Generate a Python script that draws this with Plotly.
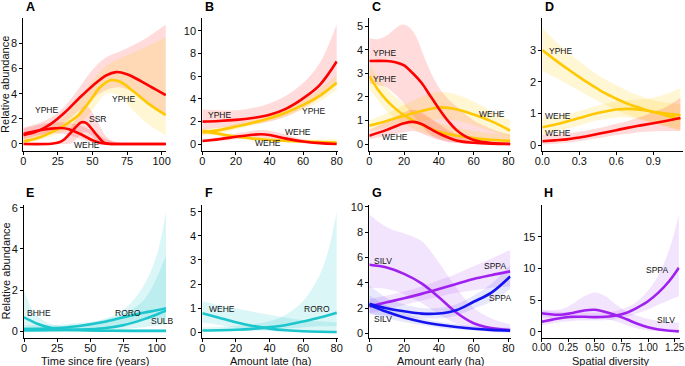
import plotly.graph_objects as go

W, H = 685, 366
FONT = "Liberation Sans, Arial, Helvetica, sans-serif"

RED, GOLD, TEAL, PURPLE, BLUE = "#FF0000", "#FFC800", "#1CC6CC", "#A020F0", "#1414EE"
RED_F = "rgba(255,0,0,0.14)"
GOLD_F = "rgba(255,200,0,0.17)"
TEAL_F = "rgba(0,190,200,0.14)"
PURPLE_F = "rgba(160,32,240,0.12)"
BLUE_F = "rgba(20,20,238,0.10)"

# ---------------- Panel A : time since fire ----------------
A_YPHE_R_x = [0, 10, 20, 30, 40, 50, 60, 67, 75, 85, 95, 103]
A_YPHE_R = [0.70, 1.00, 1.60, 2.50, 3.60, 4.62, 5.46, 5.72, 5.55, 5.00, 4.38, 3.88]
A_YPHE_R_bx = [0, 10, 20, 30, 40, 50, 60, 70, 80, 90, 103]
A_YPHE_R_lo = [0.25, 0.55, 1.00, 1.70, 2.60, 3.60, 4.30, 4.50, 4.10, 3.30, 2.40]
A_YPHE_R_hi = [1.30, 1.60, 2.10, 3.00, 4.40, 5.90, 6.90, 7.35, 7.90, 8.50, 9.50]
A_YPHE_Y_x = [0, 10, 20, 30, 40, 45, 50, 55, 63, 70, 80, 90, 103]
A_YPHE_Y = [0.19, 0.45, 0.90, 1.50, 2.30, 2.95, 3.70, 4.45, 5.07, 4.95, 4.15, 3.25, 2.30]
A_YPHE_Y_bx = [0, 10, 20, 30, 40, 50, 60, 70, 80, 90, 103]
A_YPHE_Y_lo = [0.02, 0.25, 0.60, 1.00, 1.60, 2.70, 4.00, 3.80, 2.60, 1.60, 0.67]
A_YPHE_Y_hi = [0.45, 0.80, 1.35, 2.20, 3.50, 5.00, 6.20, 6.80, 7.30, 7.80, 8.50]
A_SSR_x = [0, 20, 26, 30, 34, 38, 42, 45, 48, 51, 54, 58, 62, 70, 103]
A_SSR = [0, 0.02, 0.13, 0.40, 0.85, 1.35, 1.72, 1.70, 1.40, 1.00, 0.60, 0.13, 0.02, 0, 0]
A_SSR_bx = [20, 25, 30, 35, 40, 44, 48, 52, 56, 60, 65, 70]
A_SSR_lo = [0, 0, 0, 0.05, 0.60, 0.95, 0.80, 0.40, 0.10, 0, 0, 0]
A_SSR_hi = [0, 0.05, 0.50, 1.40, 2.50, 3.05, 2.80, 2.10, 1.30, 0.60, 0.20, 0.05]
A_WEHE_x = [0, 10, 20, 27, 33, 38, 42, 46, 50, 55, 60, 70, 103]
A_WEHE = [0.80, 1.05, 1.22, 1.27, 1.18, 0.95, 0.75, 0.52, 0.30, 0.10, 0.02, 0, 0]
A_WEHE_bx = [0, 10, 20, 30, 40, 50, 60, 70]
A_WEHE_lo = [0.40, 0.70, 0.85, 0.80, 0.45, 0.10, 0, 0]
A_WEHE_hi = [1.20, 1.50, 1.70, 1.70, 1.50, 1.00, 0.40, 0.10]

# ---------------- Panel B : amount late ----------------
B_x = [0, 10, 20, 30, 40, 50, 60, 70, 80]
B_YPHE_R = [2.0, 2.05, 2.15, 2.32, 2.6, 3.15, 4.05, 5.25, 7.3]
B_YPHE_R_lo = [1.3, 1.45, 1.6, 1.75, 2.0, 2.45, 3.2, 4.1, 5.3]
B_YPHE_R_hi = [3.1, 3.0, 3.0, 3.2, 3.6, 4.3, 5.4, 7.2, 10.6]
B_YPHE_Y = [1.03, 1.25, 1.56, 1.9, 2.3, 2.8, 3.47, 4.3, 5.44]
B_YPHE_Y_lo = [0.75, 0.95, 1.3, 1.65, 2.0, 2.45, 3.05, 3.8, 4.8]
B_YPHE_Y_hi = [1.35, 1.5, 1.8, 2.15, 2.6, 3.15, 3.9, 4.9, 6.1]
B_WEHE_Y = [1.18, 0.92, 0.68, 0.5, 0.38, 0.3, 0.24, 0.19, 0.15]
B_WEHE_Y_lo = [0.95, 0.72, 0.5, 0.35, 0.25, 0.18, 0.12, 0.08, 0.05]
B_WEHE_Y_hi = [1.4, 1.1, 0.85, 0.7, 0.6, 0.5, 0.45, 0.42, 0.45]
B_WEHE_R_x = [0, 10, 20, 30, 35, 40, 50, 60, 70, 80]
B_WEHE_R = [0.29, 0.45, 0.66, 0.84, 0.88, 0.82, 0.5, 0.25, 0.1, 0.03]
B_WEHE_R_lo = [0.15, 0.28, 0.45, 0.55, 0.58, 0.5, 0.25, 0.08, 0.02, 0.0]
B_WEHE_R_hi = [0.45, 0.65, 0.95, 1.2, 1.25, 1.2, 0.85, 0.45, 0.2, 0.1]

# ---------------- Panel C : amount early ----------------
C_YPHE_R_x = [0, 10, 15, 20, 25, 30, 35, 40, 45, 50, 55, 60, 70, 81]
C_YPHE_R = [3.52, 3.52, 3.47, 3.33, 3.0, 2.6, 2.05, 1.5, 1.0, 0.6, 0.33, 0.17, 0.04, 0.0]
C_YPHE_R_bx = [0, 5, 10, 15, 19, 23, 27, 31, 35, 40, 46, 50, 60, 70, 81]
C_YPHE_R_hi = [4.5, 4.45, 4.6, 4.9, 5.07, 4.95, 4.55, 3.8, 3.1, 2.4, 1.86, 1.6, 1.0, 0.65, 0.4]
C_YPHE_R_lo = [2.57, 2.5, 2.4, 2.1, 1.8, 1.4, 1.05, 0.7, 0.4, 0.2, 0.07, 0.04, 0, 0, 0]
C_YPHE_Y_x = [0, 5, 10, 15, 20, 30, 40, 50, 60, 70, 81]
C_YPHE_Y = [2.88, 2.3, 1.85, 1.5, 1.22, 0.82, 0.52, 0.36, 0.25, 0.18, 0.14]
C_YPHE_Y_hi = [3.4, 2.8, 2.35, 2.0, 1.7, 1.25, 0.9, 0.7, 0.55, 0.45, 0.4]
C_YPHE_Y_lo = [2.35, 1.85, 1.4, 1.1, 0.85, 0.5, 0.28, 0.15, 0.08, 0.05, 0.03]
C_WEHE_Y_x = [0, 10, 20, 30, 40, 50, 60, 70, 81]
C_WEHE_Y = [0.78, 0.98, 1.2, 1.4, 1.55, 1.47, 1.25, 0.97, 0.57]
C_WEHE_Y_hi = [1.0, 1.3, 1.65, 2.0, 2.2, 2.1, 1.8, 1.4, 1.0]
C_WEHE_Y_lo = [0.55, 0.7, 0.85, 1.0, 1.05, 1.0, 0.8, 0.55, 0.3]
C_WEHE_R_x = [0, 10, 20, 25, 30, 35, 40, 50, 60, 70, 81]
C_WEHE_R = [0.35, 0.6, 0.88, 0.94, 0.85, 0.65, 0.45, 0.15, 0.05, 0.01, 0]
C_WEHE_R_hi = [0.6, 0.95, 1.35, 1.45, 1.35, 1.1, 0.85, 0.4, 0.2, 0.1, 0.05]
C_WEHE_R_lo = [0.2, 0.35, 0.5, 0.55, 0.45, 0.3, 0.18, 0.05, 0.01, 0, 0]

# ---------------- Panel D : spatial diversity ----------------
D_x = [0, 0.1, 0.2, 0.3, 0.4, 0.5, 0.6, 0.7, 0.8, 0.9, 1.0, 1.12]
D_YPHE_Y = [3.0, 2.7, 2.42, 2.15, 1.9, 1.66, 1.47, 1.3, 1.17, 1.05, 0.95, 0.82]
D_YPHE_Y_hi = [3.7, 3.3, 2.95, 2.65, 2.35, 2.1, 1.9, 1.7, 1.55, 1.42, 1.35, 1.3]
D_YPHE_Y_lo = [2.35, 2.15, 1.93, 1.72, 1.5, 1.3, 1.1, 0.95, 0.83, 0.72, 0.6, 0.45]
D_WEHE_Y = [0.57, 0.65, 0.75, 0.86, 0.97, 1.06, 1.13, 1.15, 1.12, 1.06, 1.0, 0.95]
D_WEHE_Y_hi = [0.85, 0.9, 0.98, 1.08, 1.2, 1.3, 1.38, 1.42, 1.45, 1.5, 1.62, 1.8]
D_WEHE_Y_lo = [0.35, 0.43, 0.53, 0.63, 0.75, 0.83, 0.88, 0.88, 0.8, 0.7, 0.6, 0.5]
D_WEHE_R = [0.13, 0.16, 0.19, 0.25, 0.32, 0.4, 0.48, 0.56, 0.63, 0.7, 0.77, 0.86]
D_WEHE_R_hi = [0.35, 0.36, 0.38, 0.43, 0.5, 0.58, 0.68, 0.78, 0.9, 1.05, 1.2, 1.5]
D_WEHE_R_lo = [0.03, 0.05, 0.08, 0.13, 0.2, 0.26, 0.33, 0.37, 0.42, 0.44, 0.45, 0.45]

# ---------------- Panel E : time since fire ----------------
E_BHHE_x = [0, 5, 10, 15, 20, 25, 30, 40, 60, 80, 107]
E_BHHE = [0.68, 0.52, 0.37, 0.26, 0.17, 0.11, 0.08, 0.05, 0.03, 0.02, 0.02]
E_BHHE_hi = [2.0, 1.2, 0.75, 0.5, 0.35, 0.28, 0.22, 0.17, 0.12, 0.1, 0.1]
E_BHHE_lo = [0.25, 0.2, 0.14, 0.08, 0.05, 0.03, 0.02, 0.01, 0, 0, 0]
E_x = [0, 20, 40, 60, 75, 90, 100, 107]
E_RORO = [0.12, 0.15, 0.25, 0.45, 0.68, 0.9, 1.02, 1.12]
E_RORO_hi = [0.3, 0.3, 0.4, 0.55, 0.85, 1.5, 2.6, 3.7]
E_RORO_lo = [0.03, 0.06, 0.12, 0.22, 0.38, 0.55, 0.62, 0.65]
E_SULB = [0.04, 0.05, 0.08, 0.15, 0.3, 0.58, 0.82, 1.0]
E_SULB_hi = [0.15, 0.15, 0.3, 0.6, 1.05, 2.2, 3.7, 5.8]
E_SULB_lo = [0.01, 0.01, 0.02, 0.05, 0.1, 0.2, 0.28, 0.32]

# ---------------- Panel F : amount late ----------------
F_x = [0, 10, 20, 30, 40, 50, 60, 70, 80]
F_WEHE = [0.79, 0.6, 0.41, 0.26, 0.15, 0.08, 0.04, 0.02, 0.01]
F_WEHE_hi = [1.3, 1.12, 0.98, 0.85, 0.72, 0.6, 0.5, 0.45, 0.4]
F_WEHE_lo = [0.4, 0.3, 0.18, 0.1, 0.05, 0.02, 0.01, 0, 0]
F_RORO_x = [0, 10, 20, 30, 40, 50, 60, 70, 75, 80]
F_RORO = [0.07, 0.08, 0.1, 0.14, 0.21, 0.3, 0.44, 0.61, 0.7, 0.81]
F_RORO_hi = [0.2, 0.22, 0.26, 0.33, 0.45, 0.75, 1.3, 2.4, 3.4, 5.0]
F_RORO_lo = [0.02, 0.03, 0.04, 0.06, 0.1, 0.15, 0.2, 0.25, 0.25, 0.25]

# ---------------- Panel G : amount early ----------------
G_x = [0, 10, 20, 30, 40, 50, 60, 70, 81]
G_SILV_P = [5.42, 5.2, 4.7, 3.95, 2.85, 1.65, 0.8, 0.42, 0.26]
G_SILV_P_hi = [9.4, 8.4, 7.9, 7.3, 5.6, 3.6, 2.0, 1.2, 0.7]
G_SILV_P_lo = [3.6, 3.5, 3.1, 2.4, 1.5, 0.75, 0.3, 0.1, 0.05]
G_SPPA_P = [2.12, 2.45, 2.77, 3.12, 3.5, 3.9, 4.3, 4.6, 4.9]
G_SPPA_P_hi = [2.7, 3.0, 3.3, 3.7, 4.2, 4.7, 5.3, 5.9, 6.6]
G_SPPA_P_lo = [1.6, 1.9, 2.25, 2.6, 2.9, 3.2, 3.4, 3.6, 3.7]
G_SPPA_B = [2.33, 1.98, 1.74, 1.56, 1.57, 1.83, 2.5, 3.2, 4.5]
G_SPPA_B_hi = [3.8, 2.8, 2.3, 2.0, 2.0, 2.3, 3.0, 3.9, 5.4]
G_SPPA_B_lo = [1.5, 1.4, 1.3, 1.2, 1.2, 1.4, 1.95, 2.5, 3.5]
G_SILV_B = [2.25, 1.7, 1.25, 0.92, 0.68, 0.5, 0.36, 0.27, 0.21]
G_SILV_B_hi = [3.0, 2.2, 1.6, 1.2, 0.92, 0.72, 0.58, 0.5, 0.45]
G_SILV_B_lo = [1.6, 1.2, 0.9, 0.65, 0.45, 0.32, 0.22, 0.15, 0.1]

# ---------------- Panel H : spatial diversity ----------------
H_x = [0, 0.1, 0.2, 0.3, 0.4, 0.5, 0.6, 0.7, 0.8, 0.9, 1.0, 1.1, 1.2, 1.29]
H_SPPA = [1.58, 1.9, 2.2, 2.35, 2.35, 2.3, 2.35, 2.55, 3.0, 3.8, 4.8, 6.2, 8.0, 10.1]
H_SPPA_hi = [3.3, 3.2, 3.1, 3.1, 3.0, 3.0, 3.0, 3.3, 3.8, 4.8, 6.5, 9.0, 13.0, 18.5]
H_SPPA_lo = [1.0, 1.3, 1.55, 1.7, 1.75, 1.75, 1.8, 2.0, 2.3, 2.9, 3.5, 4.3, 5.0, 5.6]
H_SILV = [2.9, 2.7, 2.7, 3.0, 3.35, 3.45, 3.1, 2.6, 1.95, 1.25, 0.7, 0.33, 0.14, 0.05]
H_SILV_hi = [3.5, 3.4, 3.6, 4.5, 5.6, 6.2, 5.6, 4.3, 3.2, 2.5, 2.0, 1.7, 1.5, 1.4]
H_SILV_lo = [2.3, 2.1, 2.0, 2.0, 2.1, 2.1, 2.0, 1.6, 1.0, 0.5, 0.2, 0.08, 0.03, 0.01]

# ---------------- axis ticks / titles ----------------
PANEL_LETTERS = ["A", "B", "C", "D", "E", "F", "G", "H"]
X_TICKS = [[0, 25, 50, 75, 100], [0, 20, 40, 60, 80], [0, 20, 40, 60, 80], [0.0, 0.3, 0.6, 0.9],
           [0, 25, 50, 75, 100], [0, 20, 40, 60, 80], [0, 20, 40, 60, 80], [0.0, 0.25, 0.5, 0.75, 1.0, 1.25]]
X_TICKTEXT = [["0", "25", "50", "75", "100"], ["0", "20", "40", "60", "80"], ["0", "20", "40", "60", "80"],
              ["0.0", "0.3", "0.6", "0.9"], ["0", "25", "50", "75", "100"], ["0", "20", "40", "60", "80"],
              ["0", "20", "40", "60", "80"], ["0.00", "0.25", "0.50", "0.75", "1.00", "1.25"]]
Y_TICKS = [[0, 2, 4, 6, 8], [0, 2, 4, 6, 8, 10], [0, 1, 2, 3, 4, 5], [0, 1, 2, 3],
           [0, 2, 4, 6], [0, 1, 2, 3, 4, 5], [0, 2, 4, 6, 8, 10], [0, 5, 10, 15]]
X_TITLES = ["Time since fire (years)", "Amount late (ha)", "Amount early (ha)", "Spatial diversity"]
Y_TITLE = "Relative abundance"
LABELS = [
    [("YPHE", 16.9, 2.7), ("SSR", 53.5, 2.0), ("YPHE", 72.3, 3.57), ("WEHE", 45.8, -0.08)],
    [("YPHE", 10.5, 2.6), ("YPHE", 66, 2.94), ("WEHE", 57, 1.12), ("WEHE", 39.3, 0.09)],
    [("YPHE", 8.6, 3.84), ("YPHE", 8.6, 2.77), ("WEHE", 70.4, 1.26), ("WEHE", 14.8, 0.31)],
    [("YPHE", 0.149, 2.98), ("WEHE", 0.13, 0.94), ("WEHE", 0.13, 0.39)],
    [("BHHE", 11.5, 0.91), ("RORO", 78.6, 0.89), ("SULB", 104.7, 0.48)],
    [("WEHE", 11.5, 0.95), ("RORO", 68, 0.95)],
    [("SILV", 8.1, 5.69), ("SPPA", 72.4, 5.29), ("SPPA", 74.9, 2.78), ("SILV", 8.1, 1.11)],
    [("SPPA", 1.082, 9.74), ("SILV", 1.168, 1.84)],
]

# ---------------- layout geometry (pixels) ----------------
X_DOM_PX = [(23.3, 166), (202.3, 337.7), (369.3, 510.7), (542.3, 683),
            (24, 166), (202.3, 337.7), (369.3, 510.7), (541.7, 679.5)]
ROW_PX = [(18.3, 150.5), (205, 337.5)]
X_RANGES = [[0, 103.2], [0, 80.6], [0, 81.3], [0, 1.141], [0, 107], [0, 80.6], [0, 81.3], [0, 1.296]]
Y_RANGES = [[-0.52, 10.0], [-0.55, 11.12], [-0.275, 5.33], [-0.16, 4.0],
            [-0.3, 6.13], [-0.22, 5.28], [-0.33, 10.15], [-0.92, 20.0]]
X_TICK_SIZE = [11, 11, 11, 11, 11, 11, 11, 10]

fig = go.Figure()


def ax_ids(i):
    return ("x" if i == 0 else f"x{i+1}"), ("y" if i == 0 else f"y{i+1}")


def band(i, x, lo, hi, color):
    xa, ya = ax_ids(i)
    fig.add_trace(go.Scatter(x=x, y=lo, mode="lines", line=dict(width=0, shape="spline"),
                             xaxis=xa, yaxis=ya, showlegend=False, hoverinfo="skip"))
    fig.add_trace(go.Scatter(x=x, y=hi, mode="lines", line=dict(width=0, shape="spline"),
                             fill="tonexty", fillcolor=color,
                             xaxis=xa, yaxis=ya, showlegend=False, hoverinfo="skip"))


def curve(i, x, y, color):
    xa, ya = ax_ids(i)
    fig.add_trace(go.Scatter(x=x, y=y, mode="lines", line=dict(width=2.6, color=color, shape="spline"),
                             xaxis=xa, yaxis=ya, showlegend=False, hoverinfo="skip"))


# ribbons
band(0, A_YPHE_R_bx, A_YPHE_R_lo, A_YPHE_R_hi, RED_F)
band(0, A_YPHE_Y_bx, A_YPHE_Y_lo, A_YPHE_Y_hi, GOLD_F)
band(0, A_SSR_bx, A_SSR_lo, A_SSR_hi, RED_F)
band(0, A_WEHE_bx, A_WEHE_lo, A_WEHE_hi, RED_F)
band(1, B_x, B_YPHE_R_lo, B_YPHE_R_hi, RED_F)
band(1, B_x, B_YPHE_Y_lo, B_YPHE_Y_hi, GOLD_F)
band(1, B_x, B_WEHE_Y_lo, B_WEHE_Y_hi, GOLD_F)
band(1, B_WEHE_R_x, B_WEHE_R_lo, B_WEHE_R_hi, RED_F)
band(2, C_YPHE_R_bx, C_YPHE_R_lo, C_YPHE_R_hi, RED_F)
band(2, C_YPHE_Y_x, C_YPHE_Y_lo, C_YPHE_Y_hi, GOLD_F)
band(2, C_WEHE_Y_x, C_WEHE_Y_lo, C_WEHE_Y_hi, GOLD_F)
band(2, C_WEHE_R_x, C_WEHE_R_lo, C_WEHE_R_hi, RED_F)
band(3, D_x, D_YPHE_Y_lo, D_YPHE_Y_hi, GOLD_F)
band(3, D_x, D_WEHE_Y_lo, D_WEHE_Y_hi, GOLD_F)
band(3, D_x, D_WEHE_R_lo, D_WEHE_R_hi, RED_F)
band(4, E_BHHE_x, E_BHHE_lo, E_BHHE_hi, TEAL_F)
band(4, E_x, E_RORO_lo, E_RORO_hi, TEAL_F)
band(4, E_x, E_SULB_lo, E_SULB_hi, TEAL_F)
band(5, F_x, F_WEHE_lo, F_WEHE_hi, TEAL_F)
band(5, F_RORO_x, F_RORO_lo, F_RORO_hi, TEAL_F)
band(6, G_x, G_SILV_P_lo, G_SILV_P_hi, PURPLE_F)
band(6, G_x, G_SPPA_P_lo, G_SPPA_P_hi, PURPLE_F)
band(6, G_x, G_SPPA_B_lo, G_SPPA_B_hi, BLUE_F)
band(6, G_x, G_SILV_B_lo, G_SILV_B_hi, BLUE_F)
band(7, H_x, H_SPPA_lo, H_SPPA_hi, PURPLE_F)
band(7, H_x, H_SILV_lo, H_SILV_hi, PURPLE_F)

# lines
curve(0, A_YPHE_Y_x, A_YPHE_Y, GOLD)
curve(0, A_YPHE_R_x, A_YPHE_R, RED)
curve(0, A_SSR_x, A_SSR, RED)
curve(0, A_WEHE_x, A_WEHE, RED)
curve(1, B_x, B_YPHE_Y, GOLD)
curve(1, B_x, B_WEHE_Y, GOLD)
curve(1, B_x, B_YPHE_R, RED)
curve(1, B_WEHE_R_x, B_WEHE_R, RED)
curve(2, C_YPHE_Y_x, C_YPHE_Y, GOLD)
curve(2, C_WEHE_Y_x, C_WEHE_Y, GOLD)
curve(2, C_YPHE_R_x, C_YPHE_R, RED)
curve(2, C_WEHE_R_x, C_WEHE_R, RED)
curve(3, D_x, D_YPHE_Y, GOLD)
curve(3, D_x, D_WEHE_Y, GOLD)
curve(3, D_x, D_WEHE_R, RED)
curve(4, E_BHHE_x, E_BHHE, TEAL)
curve(4, E_x, E_RORO, TEAL)
curve(4, E_x, E_SULB, TEAL)
curve(5, F_x, F_WEHE, TEAL)
curve(5, F_RORO_x, F_RORO, TEAL)
curve(6, G_x, G_SILV_P, PURPLE)
curve(6, G_x, G_SPPA_P, PURPLE)
curve(6, G_x, G_SPPA_B, BLUE)
curve(6, G_x, G_SILV_B, BLUE)
curve(7, H_x, H_SPPA, PURPLE)
curve(7, H_x, H_SILV, PURPLE)

layout = dict(template="none", width=W, height=H, margin=dict(l=0, r=0, t=0, b=0, pad=0),
              autosize=False, paper_bgcolor="white", plot_bgcolor="rgba(0,0,0,0)", showlegend=False,
              font=dict(family=FONT, color="#111111"))
annotations = []
for i in range(8):
    row = 0 if i < 4 else 1
    x0, x1 = X_DOM_PX[i]
    top, bot = ROW_PX[row]
    xk = "xaxis" if i == 0 else f"xaxis{i+1}"
    yk = "yaxis" if i == 0 else f"yaxis{i+1}"
    xa, ya = ax_ids(i)
    common = dict(showline=True, linecolor="black", linewidth=1, ticks="outside", ticklen=3,
                  tickwidth=1, tickcolor="black", showgrid=False, zeroline=False, fixedrange=True,
                  automargin=False, ticklabeloverflow="allow")
    layout[xk] = dict(domain=[x0 / W, x1 / W], range=X_RANGES[i], anchor=ya, ticklabelstandoff=-3,
                      tickvals=X_TICKS[i], ticktext=X_TICKTEXT[i],
                      tickfont=dict(family=FONT, size=X_TICK_SIZE[i], color="#111111"), **common)
    layout[yk] = dict(domain=[1 - bot / H, 1 - top / H], range=Y_RANGES[i], anchor=xa,
                      tickvals=Y_TICKS[i], ticktext=[str(v) for v in Y_TICKS[i]],
                      tickfont=dict(family=FONT, size=11, color="#111111"), **common)
    letter_y = 7.3 if row == 0 else 193
    annotations.append(dict(text=f"<b>{PANEL_LETTERS[i]}</b>", xref="paper", yref="paper",
                            x=(x0 + 0.5) / W, y=1 - letter_y / H, xanchor="left", yanchor="middle",
                            showarrow=False, font=dict(family=FONT, size=12.5, color="black")))
    for (txt, lx, ly) in LABELS[i]:
        annotations.append(dict(text=txt, xref=xa, yref=ya, x=lx, y=ly, showarrow=False,
                                xanchor="center", yanchor="middle",
                                font=dict(family=FONT, size=8.5, color="#111111")))
    if row == 1:
        annotations.append(dict(text=X_TITLES[i - 4], xref="paper", yref="paper",
                                x=(x0 + x1) / 2 / W, y=1 - 360.5 / H, xanchor="center", yanchor="middle",
                                showarrow=False, font=dict(family=FONT, size=11, color="#111111")))
for cy in (84.4, 271):
    annotations.append(dict(text=Y_TITLE, xref="paper", yref="paper", x=5.5 / W, y=1 - cy / H,
                            xanchor="center", yanchor="middle", textangle=-90, showarrow=False,
                            font=dict(family=FONT, size=11, color="#111111")))
layout["annotations"] = annotations
fig.update_layout(**layout)
fig.write_html("out.html", config={"displayModeBar": False, "staticPlot": True},
               post_script="document.body.style.margin='0';document.body.style.padding='0';"
                           "document.body.style.overflow='hidden';")
